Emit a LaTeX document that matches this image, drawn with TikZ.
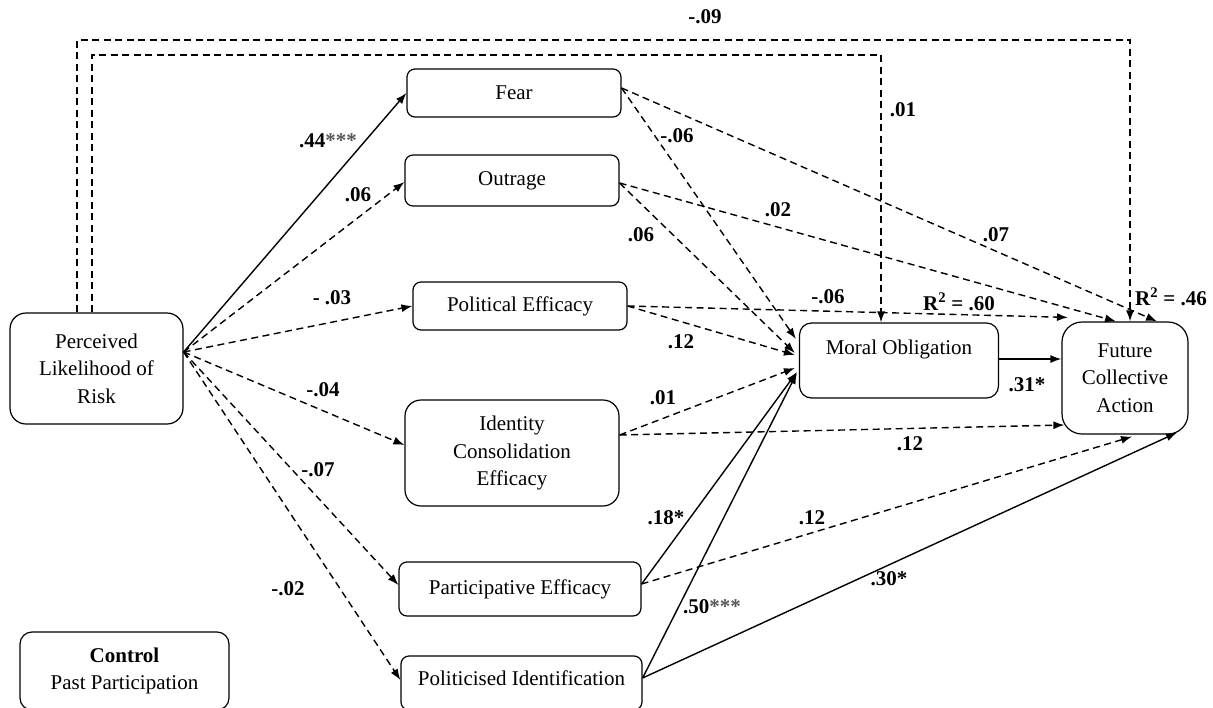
\documentclass[tikz,border=0pt]{standalone}
\usepackage{fontspec}
\setmainfont{Liberation Serif}
\usetikzlibrary{arrows.meta,calc}
\begin{document}
\begin{tikzpicture}[x=1pt,y=-1pt,
  box/.style={draw, line width=1.2pt, rounded corners=8pt, align=center, inner sep=0pt,
    font=\fontsize{21}{27.5}\selectfont},
  conn/.style={line width=1.4pt, -{Latex[length=11pt,width=8pt]}},
  dconn/.style={conn, dash pattern=on 7pt off 4.5pt},
  lab/.style={font=\fontsize{21}{24}\selectfont\bfseries, inner sep=0pt},
]
\useasboundingbox[fill=white] (0,0) rectangle (1213,707);

% nodes
\node[box, minimum width=173pt, minimum height=111pt, rounded corners=16pt] (plr) at (96.5,368.5) {Perceived\\Likelihood of\\Risk};
\node[box, minimum width=209pt, minimum height=78pt, rounded corners=12pt] (ctl) at (124.5,671) {\textbf{Control}\\Past Participation};
\node[box, minimum width=214pt, minimum height=48pt] (fear) at (514,93) {Fear};
\node[box, minimum width=214pt, minimum height=51pt] (out) at (512,180.5) {Outrage};
\node[box, minimum width=214pt, minimum height=48pt] (pe) at (520,306) {Political Efficacy};
\node[box, minimum width=214pt, minimum height=106pt, rounded corners=16pt] (id) at (512,453) {Identity\\Consolidation\\Efficacy};
\node[box, minimum width=242pt, minimum height=54pt] (pa) at (520,589) {Participative Efficacy};
\node[box, minimum width=241pt, minimum height=54pt, text height=15pt, text depth=11pt] (pi) at (521.5,683) {Politicised Identification};
\node[box, minimum width=199pt, minimum height=75pt, rounded corners=12pt] (mo) at (899,360.5) {Moral Obligation\\ \mbox{}};
\node[box, minimum width=126pt, minimum height=112pt, rounded corners=20pt] (fca) at (1125,378) {Future\\Collective\\Action};

% from perceived likelihood of risk
\coordinate (src) at ([yshift=16.5pt]plr.east);
\draw[conn] (src) -- (fear.west);
\draw[dconn] (src) -- ([yshift=-1.5pt]out.west);
\draw[dconn] (src) -- (pe.west);
\draw[dconn] (src) -- ([yshift=8pt]id.west);
\draw[dconn] (src) -- ([yshift=4pt]pa.west);
\draw[dconn] (src) -- ([yshift=3pt]pi.west);

% direct paths over the top
\coordinate (t1) at (1130,40);
\coordinate (t2) at (881,55);
\draw[dconn] ([xshift=-19.5pt]plr.north) |- (t1) -- (t1 |- fca.north);
\draw[dconn] ([xshift=-4.5pt]plr.north) |- (t2) -- (t2 |- mo.north);

% mediators to outcomes
\draw[dconn] ([yshift=5pt]fear.east) -- ([xshift=-3pt,yshift=21.5pt]mo.west);
\draw[dconn] ([yshift=5pt]fear.east) -- ([xshift=32pt]fca.north);
\draw[dconn] ([yshift=-2.5pt]out.east) -- ([xshift=-4pt,yshift=7.5pt]mo.west);
\draw[dconn] ([yshift=-2.5pt]out.east) -- ([xshift=-9pt]fca.north);
\draw[dconn] (pe.east) -- ([xshift=-4pt,yshift=5.5pt]mo.west);
\draw[dconn] (pe.east) -- ([xshift=-57pt,yshift=4pt]fca.north);
\draw[dconn] ([yshift=18pt]id.east) -- ([xshift=-4pt,yshift=-7.5pt]mo.west);
\draw[dconn] ([yshift=18pt]id.east) -- ([xshift=3pt,yshift=-47pt]fca.west);
\draw[conn] ([yshift=5pt]pa.east) -- ([xshift=-2pt,yshift=-11.5pt]mo.west);
\draw[dconn] ([yshift=5pt]pa.east) -- ([xshift=7pt,yshift=-2pt]fca.south);
\draw[conn] ([yshift=5pt]pi.east) -- ([xshift=-2pt,yshift=-12.5pt]mo.west);
\draw[conn] ([yshift=5pt]pi.east) -- ([xshift=52pt,yshift=2pt]fca.south);
\draw[conn] ([yshift=1.5pt]mo.east) -- ([yshift=1.5pt]mo.east -| fca.west);

% labels
\node[lab] (l09) at (705,17) {-.09};
\node[lab] (l01a) at (903,110) {.01};
\node[lab] (l44) at (328,141) {.44\textcolor{black!65}{***}};
\node[lab] (l06a) at (358,195) {.06};
\node[lab] (l03) at (332,298) {- .03};
\node[lab] (l04) at (323,390) {-.04};
\node[lab] (l07a) at (318,470) {-.07};
\node[lab] (l02a) at (288,589) {-.02};
\node[lab] (l06b) at (677,136) {-.06};
\node[lab] (l02b) at (778,210) {.02};
\node[lab] (l06c) at (641,235) {.06};
\node[lab] (l07b) at (996,235) {.07};
\node[lab] (l06d) at (828,297) {-.06};
\node[lab] (r60) at (959,302) {R\textsuperscript{2} = .60};
\node[lab] (r46) at (1171,297) {R\textsuperscript{2} = .46};
\node[lab] (l12a) at (681,342) {.12};
\node[lab] (l01b) at (663,398) {.01};
\node[lab] (l18) at (666,518) {.18*};
\node[lab] (l12b) at (812,518) {.12};
\node[lab] (l50) at (712,607) {.50\textcolor{black!65}{***}};
\node[lab] (l12c) at (910,444) {.12};
\node[lab] (l31) at (1027,385) {.31*};
\node[lab] (l30) at (889,579) {.30*};
\end{tikzpicture}
\end{document}
